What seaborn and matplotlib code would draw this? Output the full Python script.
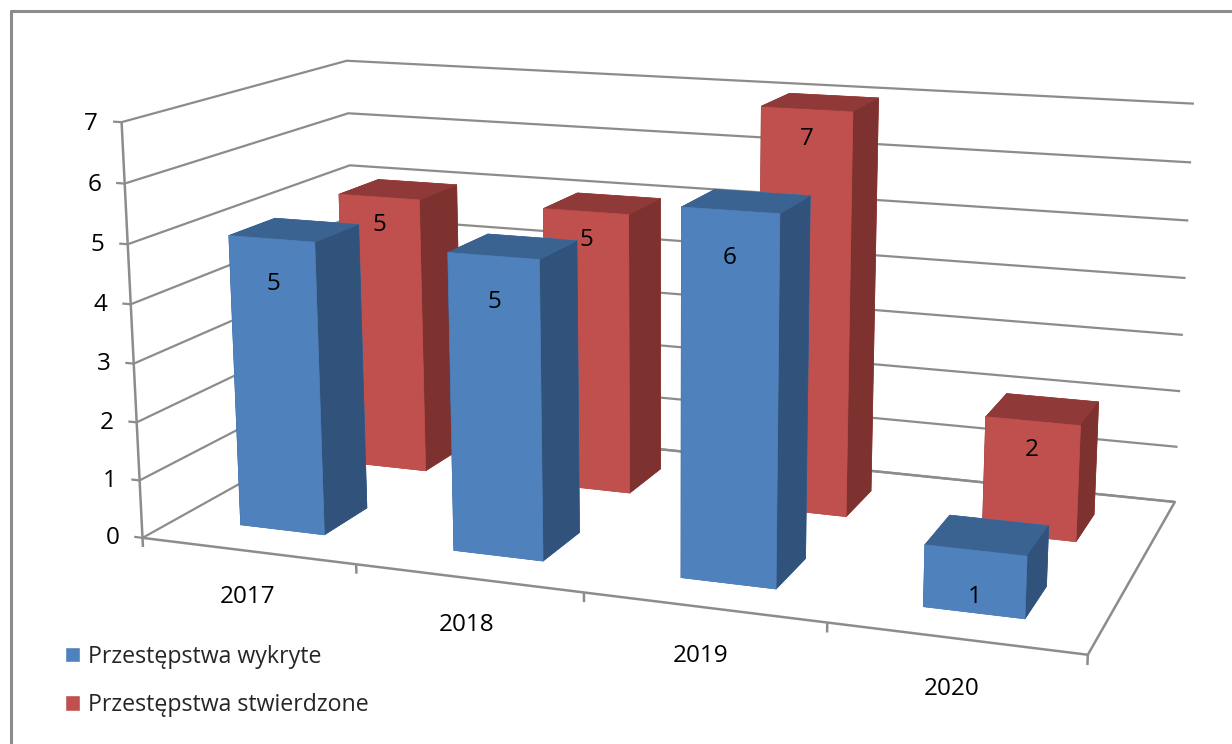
import seaborn as sns
import matplotlib
matplotlib.use('Agg')
import matplotlib.pyplot as plt
from matplotlib.patches import Patch
from matplotlib.lines import Line2D

# chart data
years = ['2017', '2018', '2019', '2020']
wykryte = [5, 5, 6, 1]
stwierdzone = [5, 5, 7, 2]
series_names = ['Przestępstwa wykryte', 'Przestępstwa stwierdzone']
z_ticks = [0, 1, 2, 3, 4, 5, 6, 7]

sns.set_theme(style='white')
plt.rcParams['font.family'] = ['Open Sans', 'DejaVu Sans']

palette = sns.color_palette(['#4F81BD', '#C0504D'])
side_cols = ['#31527A', '#7D322F']
top_cols = ['#3A6392', '#8F3A38']
grid_col = '#8C8C8C'

fig = plt.figure(figsize=(12.32, 7.44), dpi=100, facecolor='white')
# axes are square and run past the figure so the box fills the picture
ax = fig.add_axes([0.052, -0.2445, 0.958, 1.586], projection='3d', computed_zorder=False)
ax.set_proj_type('persp', focal_length=0.40)
ax.view_init(elev=13.4, azim=-70)
ax.set_box_aspect((945, 470, 417), zoom=0.936)
ax.set_xlim(0, len(years))
ax.set_ylim(0, 2)
ax.set_zlim(0, 7)
ax.set_axis_off()
ax.patch.set_alpha(0)


def line3d(xs, ys, zs, z=1, lw=1.6):
    ax.plot(xs, ys, zs, color=grid_col, lw=lw, zorder=z, solid_capstyle='butt')


# walls: left and back gridlines
n = len(years)
for tick in z_ticks:
    line3d([0, 0, n], [0, 2, 2], [tick, tick, tick])
    line3d([-0.04, 0], [0, 0], [tick, tick], z=1)
    ax.text(-0.11, 0, tick, str(tick), ha='right', va='center_baseline', fontsize=17.5, color='black', zorder=50)

# floor and value axis
line3d([0, 0], [0, 0], [0, 7], lw=1.8)
line3d([0, n, n, 0], [0, 0, 2, 2], [0, 0, 0, 0], lw=1.8)
for i in range(n + 1):
    line3d([i, i], [0, 0], [0, -0.16], lw=1.8)

bar_w = 0.40
bar_d = 0.40
label_drop = [0.75, 0.5]
values = [wykryte, stwierdzone]
order = 10
# back row first, the front row covers it
for s in [1, 0]:
    for i in range(n):
        val = values[s][i]
        # faces: bottom, top, front, back, left, right
        cols = [palette[s], top_cols[s], palette[s], palette[s], side_cols[s], side_cols[s]]
        ax.bar3d(i + 0.5 - bar_w / 2, s + 0.5 - bar_d / 2, 0, bar_w, bar_d, val,
                 color=cols, shade=False, zorder=order, linewidth=0.5, edgecolors=cols)
        order += 1
        ax.text(i + 0.5, s + 0.5 - bar_d / 2, val - label_drop[s], str(val), ha='center', va='center',
                fontsize=17.5, color='black', zorder=50)

for i, year in enumerate(years):
    ax.text(i + 0.49, 0, -0.8, year, ha='center', va='center', fontsize=17.5, color='black', zorder=50)

handles = [Patch(facecolor=palette[0], label=series_names[0]),
           Patch(facecolor=palette[1], label=series_names[1])]
fig.legend(handles=handles, loc='lower left', bbox_to_anchor=(0.053, 0.036), frameon=False,
           fontsize=16.7, handlelength=0.64, handleheight=0.64, handletextpad=0.34, labelspacing=1.05,
           borderpad=0, borderaxespad=0)

# chart area border, only top and left fall inside the picture
fig.add_artist(Line2D([11 / 1232, 11 / 1232], [0, 733 / 744], color='#8C8C8C', lw=2.2))
fig.add_artist(Line2D([11 / 1232, 1], [733 / 744, 733 / 744], color='#8C8C8C', lw=2.2))

fig.savefig('out.png', dpi=100, facecolor='white')
